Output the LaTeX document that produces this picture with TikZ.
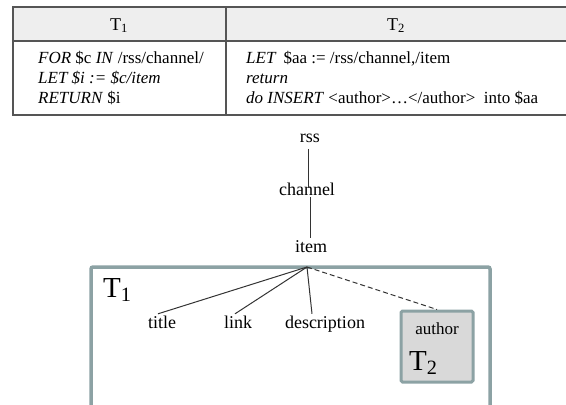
\documentclass[tikz,border=0pt]{standalone}
\usepackage{amsmath}
\usepackage{fontspec}
\setmainfont{Liberation Serif}

\definecolor{framegray}{RGB}{140,162,164}
\definecolor{headgray}{RGB}{238,238,238}
\definecolor{rulegray}{RGB}{85,85,85}
\definecolor{authfill}{RGB}{217,217,217}

\newcommand{\tsub}[1]{$_{\text{#1}}$}

\begin{document}
\begin{tikzpicture}[x=1pt,y=-1pt,
    cell/.style={anchor=base west,inner sep=0pt,font=\fontsize{17}{19}\selectfont},
    head/.style={anchor=base,inner sep=0pt,font=\fontsize{18}{20}\selectfont},
    tag/.style={anchor=base,inner sep=1.5pt,font=\fontsize{18}{20}\selectfont},
    big/.style={anchor=base west,inner sep=0pt,font=\fontsize{29}{32}\selectfont},
    tabline/.style={draw=rulegray,line width=1.3pt},
    edgeline/.style={draw=black!80,line width=1pt}]

  \useasboundingbox (0,0) rectangle (566,405);

  % query table
  \fill[headgray] (13,7) rectangle (566,41);
  \draw[tabline] (566,7) -- (13,7) -- (13,115) -- (566,115);
  \draw[tabline] (13,41) -- (566,41);
  \draw[tabline] (226,7) -- (226,115);

  \node[head] (h1) at (119,30) {T\tsub{1}};
  \node[head] (h2) at (396,30) {T\tsub{2}};

  \node[cell] (q11) at (38,63) {\textit{FOR} \$c \textit{IN} /rss/channel/};
  \node[cell] (q12) at (38,83) {\textit{LET \$i := \$c/item}};
  \node[cell] (q13) at (38,103) {\textit{RETURN} \$i};

  \node[cell] (q21) at (246,63) {\textit{LET}\, \$aa := /rss/channel,/item};
  \node[cell] (q22) at (246,83) {\textit{return}};
  \node[cell] (q23) at (246,103) {\textit{do INSERT} <author>\ldots</author>\ \ into \$aa};

  % document tree
  \node[tag] (rss) at (310,142) {rss};
  \node[tag] (channel) at (307,195) {channel};
  \node[tag] (item) at (311,252) {item};

  \draw[edgeline] ([yshift=-5pt]rss.south -| 308,0) -- ([yshift=-7pt]channel.north -| 308,0);
  \draw[edgeline] (channel.south -| 310,0) -- (item.north -| 310,0);

  % T1 region
  \draw[framegray,line width=3.5pt,rounded corners=2pt]
    (91,410) -- (91,267) -- (490,267) -- (490,410);
  \node[big] (t1) at (103,297) {T\tsub{1}};
  \coordinate (fan) at (307,267);

  \node[tag] (title) at (162,328) {title};
  \node[tag] (link) at (238,328) {link};
  \node[tag] (desc) at (325,328) {description};

  % T2 region
  \node[draw=framegray,fill=authfill,line width=3pt,rounded corners=1.5pt,
        minimum width=72pt,minimum height=71pt,inner sep=0pt] (authbox) at (437,346.5) {};
  \node[tag,font=\fontsize{17}{19}\selectfont] (author) at (437,334) {author};
  \node[big] (t2) at (409,370) {T\tsub{2}};

  \draw[edgeline] (fan) -- ([xshift=-4pt]title.north);
  \draw[edgeline] (fan) -- ([xshift=-3pt]link.north);
  \draw[edgeline] (fan) -- ([xshift=-13pt]desc.north);
  \draw[edgeline,dash pattern=on 5pt off 3pt] (fan) -- (authbox.north);

\end{tikzpicture}
\end{document}
